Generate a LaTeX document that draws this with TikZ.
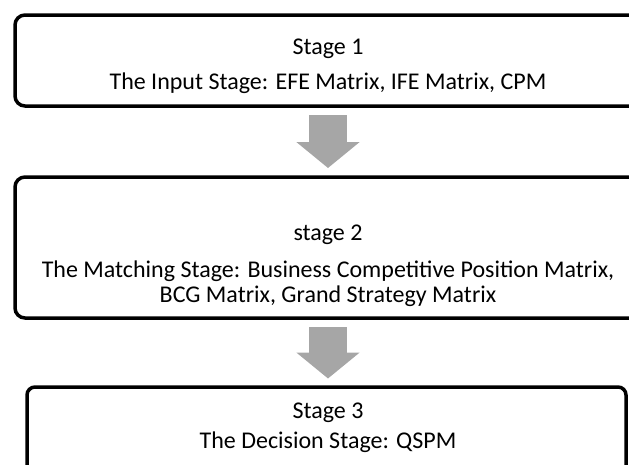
\documentclass[tikz,border=0pt]{standalone}
\usepackage{fontspec}
\setmainfont{Carlito}
\usetikzlibrary{arrows.meta}
\definecolor{arrowgray}{HTML}{A6A6A6}
\tikzset{
  stagebox/.style={draw=black, line width=3.5pt, rounded corners=10pt, outer sep=0pt, inner sep=0pt},
  stagetext/.style={anchor=base, inner sep=0pt, font=\fontsize{24}{29}\selectfont},
  flowarrow/.style={draw=arrowgray, line width=38pt, -{Triangle[width=62pt,length=26pt]}, shorten <=9pt, shorten >=9pt}
}
\begin{document}
\begin{tikzpicture}[x=1pt, y=-1pt]
  \useasboundingbox (0,0) rectangle (629,464);
  \clip (0,0) rectangle (629,464);
  % Stage boxes
  \node[stagebox, minimum width=626pt, minimum height=91pt] (box1) at (328,60.5) {};
  \node[stagebox, minimum width=626pt, minimum height=141pt] (box2) at (328,247.5) {};
  \node[stagebox, rounded corners=8pt, minimum width=599pt, minimum height=91pt] (box3) at (326.5,432.5) {};
  % Stage 1
  \node[stagetext] (s1title) at (328,54) {Stage 1};
  \node[stagetext] (s1text) at (328,89) {The Input Stage: EFE Matrix, IFE Matrix, CPM};
  % Stage 2
  \node[stagetext] (s2title) at (328,240) {stage 2};
  \node[stagetext] (s2text) at (328,277) {The Matching Stage: Business Competitive Position Matrix,};
  \node[stagetext] (s2more) at (328,302) {BCG Matrix, Grand Strategy Matrix};
  % Stage 3
  \node[stagetext] (s3title) at (328,418) {Stage 3};
  \node[stagetext] (s3text) at (328,448) {The Decision Stage: QSPM};
  % Arrows between stages
  \draw[flowarrow] (box1.south) -- (box2.north);
  \draw[flowarrow, shorten >=8.5pt] (box2.south) -- (box2.south |- box3.north);
\end{tikzpicture}
\end{document}
